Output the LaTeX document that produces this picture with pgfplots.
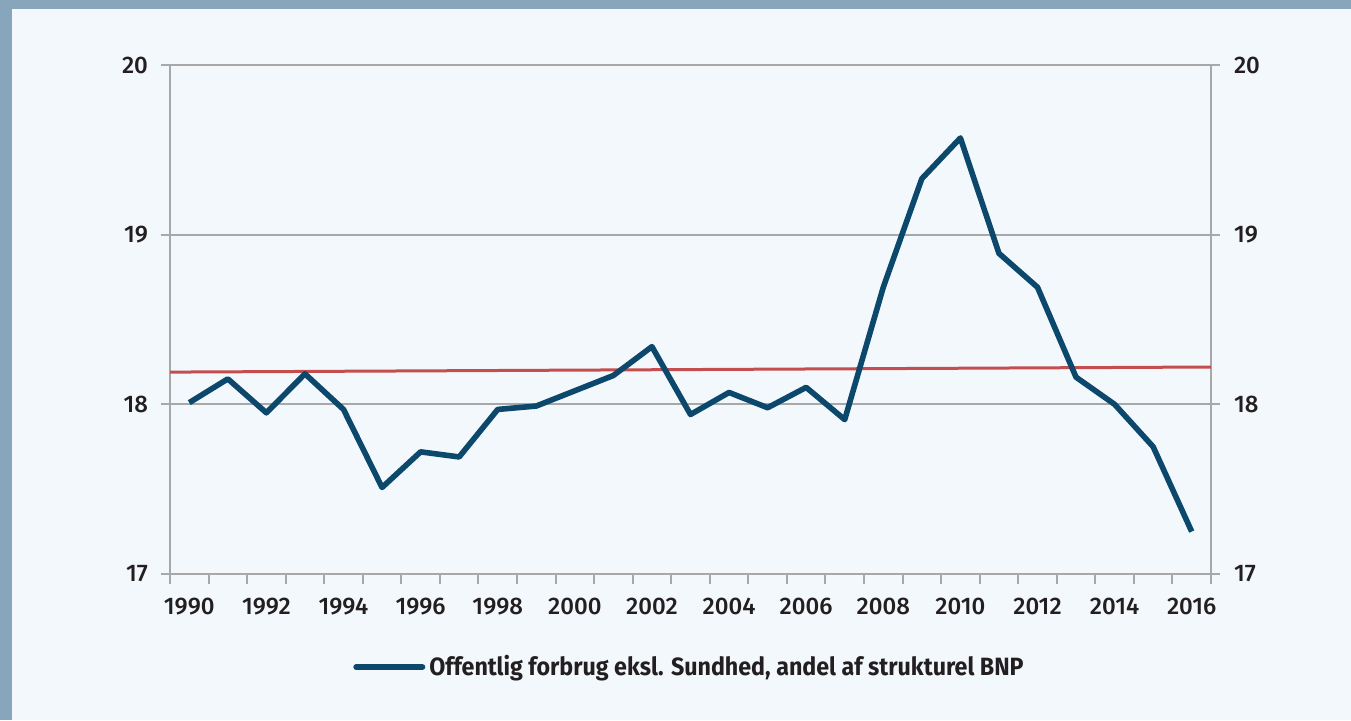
\documentclass[border=0pt]{standalone}
\usepackage{fontspec}
\setmainfont{Fira Sans}
\newfontfamily\tickfont{Fira Sans Medium}
\newfontfamily\legfont[FakeStretch=0.93]{Fira Sans}
\usepackage{pgfplots}
\pgfplotsset{compat=1.18}
\definecolor{cFrame}{HTML}{87A6BC}
\definecolor{cBack}{HTML}{F3F8FD}
\definecolor{cLine}{HTML}{0B486B}
\definecolor{cTrend}{HTML}{C44D4D}
\definecolor{cGrid}{HTML}{A8A8A8}
\definecolor{cText}{HTML}{231F20}

\begin{document}
\begin{tikzpicture}
% frame (1px = 0.5pt)
\fill[cFrame] (0,0) rectangle (675.5pt,360pt);
\fill[cBack] (6pt,0) rectangle (675.5pt,355.5pt);

\pgfplotsset{
  base/.style={
    at={(85pt,73pt)}, anchor=south west,
    scale only axis, width=520.5pt, height=254.5pt,
    xmin=1989.5, xmax=2016.5, ymin=17, ymax=20,
    ytick={17,18,19,20},
    tick label style={font=\tickfont\fontsize{12}{14}\selectfont, text=cText},
    /pgf/number format/assume math mode=true,
  }
}

\begin{axis}[base,
    axis line style={cGrid, line width=1pt},
    xtick={1990,1992,...,2016},
    xticklabel style={/pgf/number format/1000 sep={}, yshift=-4pt},
    major x tick style={draw=none},
    minor xtick={1989.5,1990.5,...,2016.5},
    minor tick style={cGrid, line width=1pt},
    minor tick length=5pt,
    xtick pos=bottom,
    ytick pos=both,
    tick align=outside,
    major tick length=4.5pt,
    ytick style={cGrid, line width=1pt},
    yticklabel style={xshift=-3pt},
    ymajorgrids,
    grid style={cGrid, line width=1pt},
    legend style={at={(0.5,-0.183)}, anchor=center, draw=none, fill=none,
      font=\legfont\bfseries\fontsize{12.5}{14}\selectfont, text=cText,
      inner sep=0pt},
    legend image code/.code={\draw[#1, line width=3pt, line cap=round] (0pt,0pt) -- (33pt,0pt);},
    legend cell align=left,
]
\addplot[cTrend, line width=1.5pt, forget plot] coordinates {(1989.5,18.19) (2016.5,18.22)};
\addplot[cLine, line width=2.8pt, line join=round] coordinates {
  (1990,18.01) (1991,18.15) (1992,17.95) (1993,18.18) (1994,17.97)
  (1995,17.51) (1996,17.72) (1997,17.69) (1998,17.97) (1999,17.99)
  (2000,18.08) (2001,18.17) (2002,18.34) (2003,17.94) (2004,18.07)
  (2005,17.98) (2006,18.10) (2007,17.91) (2008,18.69) (2009,19.33)
  (2010,19.57) (2011,18.89) (2012,18.69) (2013,18.16) (2014,18.00)
  (2015,17.75) (2016,17.25)};
\addlegendentry{Offentlig forbrug eksl. Sundhed, andel af strukturel BNP}
\end{axis}

\begin{axis}[base,
    hide x axis,
    axis y line*=right,
    y axis line style={draw=none},
    ytick style={draw=none},
    yticklabel pos=right,
    yticklabel style={xshift=8pt},
]
\end{axis}
\end{tikzpicture}
\end{document}
